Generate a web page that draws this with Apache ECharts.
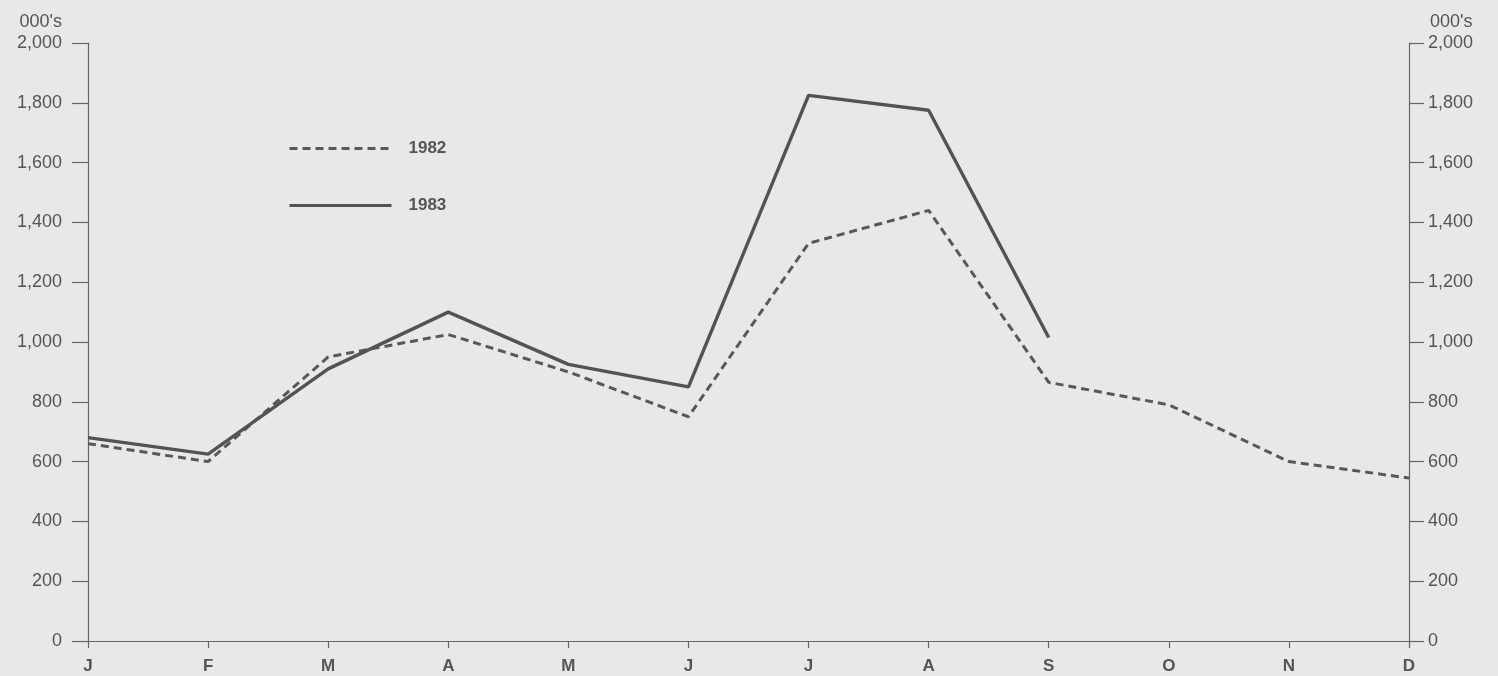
<!DOCTYPE html>
<html><head><meta charset="utf-8">
<script src="https://cdn.jsdelivr.net/npm/echarts@6/dist/echarts.min.js"></script>
<style>html,body{margin:0;padding:0;background:#e8e9e6}#c{width:1498px;height:676px}</style>
</head><body><div id="c"></div>
<script>
const months = ['J','F','M','A','M','J','J','A','S','O','N','D'];
const y1982 = [660, 600, 950, 1025, 900, 750, 1330, 1440, 865, 790, 600, 545];
const y1983 = [680, 625, 910, 1100, 925, 850, 1825, 1775, 1015];
const yTicks = [0, 200, 400, 600, 800, 1000, 1200, 1400, 1600, 1800, 2000];

const txt = '#555';
const axisCol = '#666';
const font = 'Liberation Sans';
const fmt = v => v.toLocaleString('en-US');
const chart = echarts.init(document.getElementById('c'));
const yBase = {
  type: 'value', min: yTicks[0], max: yTicks[yTicks.length - 1], interval: yTicks[1] - yTicks[0],
  splitLine: {show: false},
  axisLine: {show: true, lineStyle: {color: axisCol, width: 1.2}},
  axisTick: {show: true, lineStyle: {color: axisCol, width: 1.2}},
  axisLabel: {color: txt, fontSize: 18, fontFamily: font, formatter: fmt},
  name: "000's",
  nameGap: 12,
  nameTextStyle: {color: txt, fontSize: 18, fontFamily: font}
};
chart.setOption({
  backgroundColor: '#e8e9e6',
  animation: false,
  grid: {left: 88, right: 89, top: 43, bottom: 35},
  legend: {
    orient: 'vertical', left: 283, top: 135, itemWidth: 102, itemHeight: 14, itemGap: 40,
    itemStyle: {opacity: 0},
    lineStyle: {width: 3},
    textStyle: {color: txt, fontSize: 17, fontWeight: 'bold', fontFamily: font, padding: [0,0,0,12]},
    data: ['1982', '1983']
  },
  xAxis: {
    type: 'category', data: months, boundaryGap: false,
    axisLine: {lineStyle: {color: axisCol, width: 1.2}},
    axisTick: {show: true, length: 7, alignWithLabel: true, lineStyle: {color: axisCol, width: 1.2}},
    axisLabel: {color: txt, fontSize: 17, fontWeight: 'bold', fontFamily: font, margin: 17}
  },
  yAxis: [
    Object.assign({}, yBase, {position: 'left',
      axisTick: Object.assign({}, yBase.axisTick, {length: 16}),
      axisLabel: Object.assign({}, yBase.axisLabel, {margin: 26}),
      nameTextStyle: Object.assign({}, yBase.nameTextStyle, {align: 'right', padding: [0, 26, 0, 0]})}),
    Object.assign({}, yBase, {position: 'right',
      axisTick: Object.assign({}, yBase.axisTick, {length: 15}),
      axisLabel: Object.assign({}, yBase.axisLabel, {margin: 19}),
      nameTextStyle: Object.assign({}, yBase.nameTextStyle, {align: 'left', padding: [0, 0, 0, 21]})})
  ],
  series: [
    {name: '1982', type: 'line', data: y1982, symbol: 'none', yAxisIndex: 0,
     lineStyle: {color: '#58585a', width: 3, type: [8, 5]}, itemStyle: {color: '#58585a'}},
    {name: '1983', type: 'line', data: y1983, symbol: 'none', yAxisIndex: 0,
     lineStyle: {color: '#535355', width: 3.4}, itemStyle: {color: '#535355'}}
  ]
});
</script></body></html>
